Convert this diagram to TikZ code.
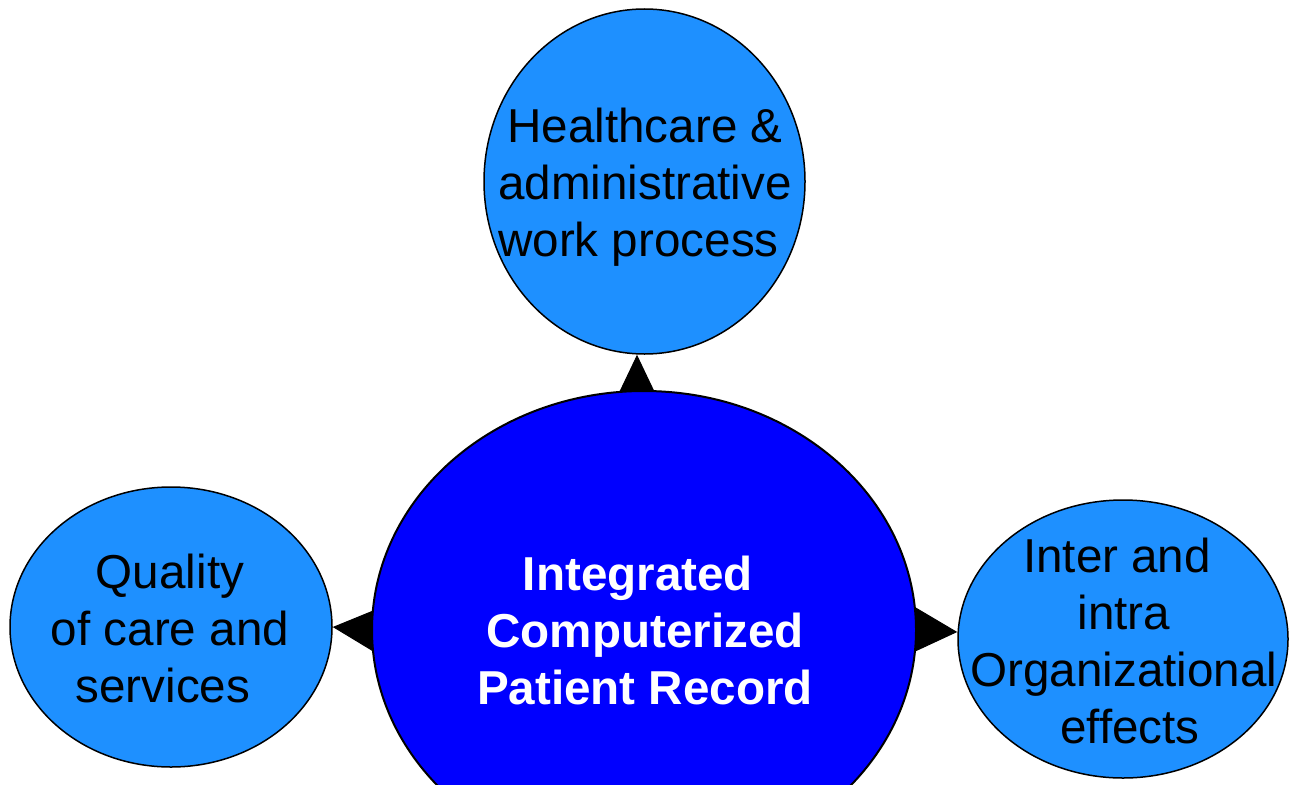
\documentclass[tikz,border=0pt]{standalone}
\usepackage{fontspec}
\setmainfont{Liberation Sans}
\usetikzlibrary{shapes.geometric,arrows.meta,backgrounds}
\definecolor{lightblu}{RGB}{30,144,255}
\definecolor{deepblu}{RGB}{0,0,255}
\begin{document}
\begin{tikzpicture}[x=1pt,y=-1pt,
  bubble/.style={ellipse,draw=black,line width=1.5pt,fill=lightblu,inner sep=0pt},
  core/.style={ellipse,draw=black,line width=2pt,fill=deepblu,inner sep=0pt},
  lbl/.style={align=center,font=\fontsize{47.6}{57}\selectfont,inner sep=0pt},
  corelbl/.style={align=center,font=\bfseries\fontsize{47.6}{57}\selectfont,text=white,inner sep=0pt},
  link/.style={line width=1pt}]
\useasboundingbox (0,0) rectangle (1289,784);
\node[core, minimum width=544pt, minimum height=478pt] (main) at (644,630) {};
\node[bubble, minimum width=321pt, minimum height=345pt] (top) at (644.5,181.5) {};
\node[bubble, minimum width=322pt, minimum height=280pt] (left) at (171,627) {};
\node[bubble, minimum width=330pt, minimum height=278pt] (right) at (1123,639) {};

\node[lbl] (toptext) at (645,187) {Healthcare \&\\administrative\\work process\hspace*{13pt}};
\node[lbl] (lefttext) at (170,628.5) {Quality\\of care and\\services\hspace*{14pt}};
\node[lbl] (righttext) at (1124,641) {Inter and\hspace*{14pt}\\intra\hspace*{14pt}\\Organizational\\\hspace*{12pt}effects};
\node[corelbl] (maintext) at (645,630) {Integrated\hspace*{14pt}\\Computerized\\Patient Record};

\begin{scope}[on background layer]
\draw[link,-{Triangle[length=37pt,width=35pt]}] ([xshift=-7pt]main.north) -- ([xshift=-7.5pt]top.south);
\draw[link,-{Triangle[length=42pt,width=42pt]}] (main.west) -- (left.east);
\draw[link,-{Triangle[length=43pt,width=45pt]}] (main.east) -- ([yshift=7pt]right.west);
\end{scope}
\end{tikzpicture}
\end{document}
